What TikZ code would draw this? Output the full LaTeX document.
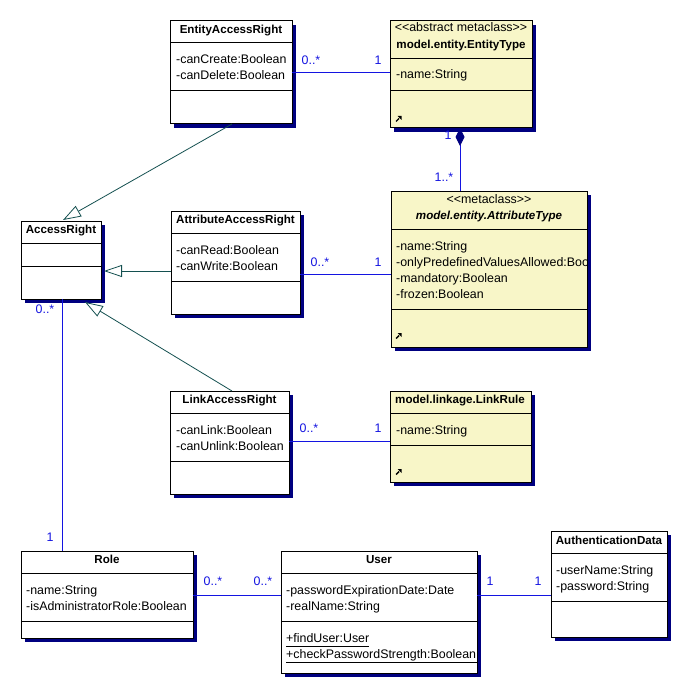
\documentclass[tikz,border=0pt]{standalone}
\usepackage{fontspec}
\newfontfamily\umlf{Liberation Sans}
\usetikzlibrary{calc,shadows,arrows.meta}
\definecolor{ylw}{RGB}{248,246,200}
\definecolor{shadowc}{RGB}{0,0,128}
\definecolor{assocc}{RGB}{20,20,225}
\definecolor{genc}{RGB}{20,80,80}
\newcommand{\classbox}[8]{%
  \node[classnode,#8,minimum width={#4-#2},minimum height={#5-#3}] (#1) at (#2,#3) {};
  \draw[line width=1pt] (#2,#6) -- (#4,#6);
  \draw[line width=1pt] (#2,#7) -- (#4,#7);
}
\newcommand{\opglyph}[2]{%
  \draw[line width=1.4pt] (#1,#2+5.5) -- (#1+3,#2+2.5);
  \fill (#1+1.5,#2) -- (#1+5.5,#2) -- (#1+5.5,#2+4) -- cycle;
}
\begin{document}
\begin{tikzpicture}[x=1pt,y=-1pt,
  font=\umlf\fontsize{12.4}{14}\selectfont,
  classnode/.style={draw=black, line width=1pt, fill=white, anchor=north west, inner sep=0pt, outer sep=0pt,
    drop shadow={shadow xshift=4pt,shadow yshift=-4pt,fill=shadowc,opacity=1}},
  txt/.style={inner sep=0pt, anchor=west, text height=8.5pt, text depth=2.5pt},
  ttl/.style={inner sep=0pt, text height=8.5pt, text depth=2.5pt, font=\umlf\fontsize{11.6}{14}\selectfont\bfseries},
  ster/.style={inner sep=0pt, text height=8.5pt, text depth=2.5pt},
  lbl/.style={inner sep=0pt, text=assocc, text height=8.5pt, text depth=2.5pt},
  assoc/.style={draw=assocc, line width=1pt},
  gen/.style={draw=genc, line width=0.8pt, -{Triangle[open,length=18pt,width=12pt,fill=white]}},
  comp/.style={draw=assocc, line width=1pt, {Diamond[length=18pt,width=9pt,color=shadowc,fill=shadowc]}-}
]
\useasboundingbox (0,0) rectangle (681,687);
\fill[white] (0,0) rectangle (681,687);

% class boxes
\classbox{ear}{170}{21}{292}{124}{43}{91}{}
\classbox{et}{390}{21}{532}{128}{59}{91}{fill=ylw}
\classbox{ar}{21}{221}{101}{299}{243}{266}{}
\classbox{aar}{171}{211}{300}{314}{233}{281}{}
\classbox{at}{391}{191}{587}{347}{229}{309}{fill=ylw}
\classbox{lar}{170}{391}{289}{494}{413}{461}{}
\classbox{lr}{390}{391}{531}{482}{413}{445}{fill=ylw}
\classbox{role}{21}{551}{193}{638}{573}{621}{}
\classbox{user}{281}{551}{477}{673}{573}{621}{}
\classbox{auth}{551}{531}{667}{637}{553}{601}{}

% texts
\node[ttl] (earT) at (231,31) {EntityAccessRight};
\node[txt] (earA1) at (176,61) {-canCreate:Boolean};
\node[txt] (earA2) at (176,77) {-canDelete:Boolean};

\node[ster] (etS) at (461,29) {<<abstract metaclass>>};
\node[ttl] (etT) at (461,46) {model.entity.EntityType};
\node[txt] (etA1) at (396,76) {-name:String};
\opglyph{396}{116}

\node[ttl] (arT) at (61,230) {AccessRight};

\node[ttl] (aarT) at (235.5,220) {AttributeAccessRight};
\node[txt] (aarA1) at (176,251) {-canRead:Boolean};
\node[txt] (aarA2) at (176,267) {-canWrite:Boolean};

\node[ster] (atS) at (489,200) {<<metaclass>>};
\node[ttl, font=\umlf\fontsize{11.6}{14}\selectfont\bfseries\itshape] (atT) at (489,216) {model.entity.AttributeType};
\node[txt] (atA1) at (396,247) {-name:String};
\begin{scope}
\clip (392,252) rectangle (586.5,272);
\node[txt] (atA2) at (396,263) {-onlyPredefinedValuesAllowed:Boo};
\end{scope}
\node[txt] (atA3) at (396,279) {-mandatory:Boolean};
\node[txt] (atA4) at (396,295) {-frozen:Boolean};
\opglyph{396}{333}

\node[ttl] (larT) at (229.5,400) {LinkAccessRight};
\node[txt] (larA1) at (176,431) {-canLink:Boolean};
\node[txt] (larA2) at (176,447) {-canUnlink:Boolean};

\node[ttl] (lrT) at (460,400) {model.linkage.LinkRule};
\node[txt] (lrA1) at (396,431) {-name:String};
\opglyph{396}{469}

\node[ttl] (roleT) at (107,560) {Role};
\node[txt] (roleA1) at (26,591) {-name:String};
\node[txt] (roleA2) at (26,607) {-isAdministratorRole:Boolean};

\node[ttl] (userT) at (379,560) {User};
\node[txt] (userA1) at (286,591) {-passwordExpirationDate:Date};
\node[txt] (userA2) at (286,607) {-realName:String};
\node[txt] (userM1) at (286,639) {+findUser:User};
\node[txt] (userM2) at (286,655) {+checkPasswordStrength:Boolean};
\draw[line width=0.8pt] ($(userM1.south west)+(0,1.5)$) -- ($(userM1.south east)+(0,1.5)$);
\draw[line width=0.8pt] ($(userM2.south west)+(0,1.5)$) -- ($(userM2.south west)+(191,1.5)$);

\node[ttl] (authT) at (609,541) {AuthenticationData};
\node[txt] (authA1) at (556,571) {-userName:String};
\node[txt] (authA2) at (556,587) {-password:String};

% generalizations
\draw[gen] ($(ear.south west)+(62,0)$) -- ($(ar.north west)+(42,-1)$);
\draw[gen] ($(aar.north west)+(0,60)$) -- ($(ar.north east)+(3,50)$);
\draw[gen] ($(lar.north west)+(62,0)$) -- ($(ar.south west)+(64,3)$);

% associations
\draw[assoc] ($(ear.north east)+(0,52)$) -- ($(et.north west)+(0,52)$);
\draw[comp] ($(et.south west)+(70,0)$) -- ($(at.north west)+(69,0)$);
\draw[assoc] ($(aar.north east)+(0,63)$) -- ($(at.north west)+(0,83)$);
\draw[assoc] ($(lar.north east)+(0,50)$) -- ($(lr.north west)+(0,50)$);
\draw[assoc] ($(ar.south west)+(41,0)$) -- ($(role.north west)+(41,0)$);
\draw[assoc] ($(role.north east)+(0,44)$) -- ($(user.north west)+(0,44)$);
\draw[assoc] ($(user.north east)+(0,44)$) -- ($(auth.north west)+(0,64)$);

% multiplicities
\node[lbl] (m1) at (311,62) {0..*};
\node[lbl] (m2) at (378,62) {1};
\node[lbl] (m3) at (448,137) {1};
\node[lbl] (m4) at (444,178) {1..*};
\node[lbl] (m5) at (320,263) {0..*};
\node[lbl] (m6) at (378,263) {1};
\node[lbl] (m7) at (309,429) {0..*};
\node[lbl] (m8) at (378,429) {1};
\node[lbl] (m9) at (45,310) {0..*};
\node[lbl] (m10) at (50,538) {1};
\node[lbl] (m11) at (213,582) {0..*};
\node[lbl] (m12) at (263,582) {0..*};
\node[lbl] (m13) at (490,582) {1};
\node[lbl] (m14) at (538,582) {1};
\end{tikzpicture}
\end{document}
